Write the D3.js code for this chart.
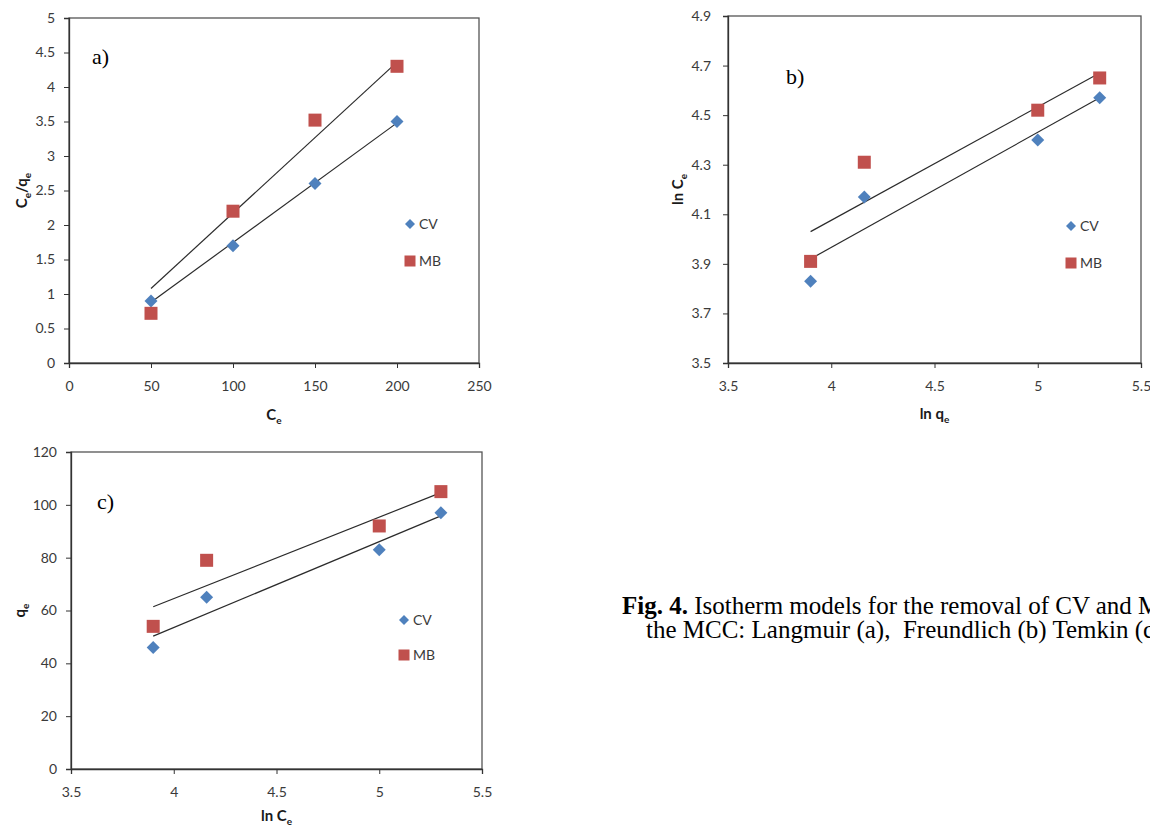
<!DOCTYPE html>
<html>
<head>
<meta charset="utf-8">
<script src="https://cdn.jsdelivr.net/npm/d3@7"></script>
<style>
  body { margin: 0; background: #fff; }
  svg { display: block; }
  .tick text { font-family: Lato, "Open Sans", sans-serif; font-size: 14px; fill: #3a3a3a; }
  .axis-title { font-family: Lato, "Open Sans", sans-serif; font-size: 15px; font-weight: bold; fill: #1a1a1a; }
  .panel-tag { font-family: "Liberation Serif", "DejaVu Serif", serif; font-size: 22px; fill: #000; }
  .legend text { font-family: Lato, "Open Sans", sans-serif; font-size: 14px; fill: #3a3a3a; }
  .caption { font-family: "Liberation Serif", "DejaVu Serif", serif; font-size: 25px; fill: #000; white-space: pre; }
</style>
</head>
<body>
<svg id="fig" width="1150" height="826"></svg>
<script>
// a) Langmuir
const langCe = [50, 100, 150, 200];
const langCV = [0.9, 1.7, 2.6, 3.5];
const langMB = [0.72, 2.2, 3.52, 4.3];
const langFitCV = [[50, 0.88], [200, 3.48]];
const langFitMB = [[50, 1.08], [200, 4.36]];
const langXTicks = [0, 50, 100, 150, 200, 250];
const langYTicks = [0, 0.5, 1, 1.5, 2, 2.5, 3, 3.5, 4, 4.5, 5];

// b) Freundlich
const freuX = [3.9, 4.16, 5.0, 5.3];
const freuCV = [3.83, 4.17, 4.40, 4.57];
const freuMB = [3.91, 4.31, 4.52, 4.65];
const freuFitCV = [[3.9, 3.92], [5.3, 4.57]];
const freuFitMB = [[3.9, 4.03], [5.3, 4.67]];
const freuXTicks = [3.5, 4, 4.5, 5, 5.5];
const freuYTicks = [3.5, 3.7, 3.9, 4.1, 4.3, 4.5, 4.7, 4.9];

// c) Temkin
const temX = [3.9, 4.16, 5.0, 5.3];
const temCV = [46, 65, 83, 97];
const temMB = [54, 79, 92, 105];
const temFitCV = [[3.9, 50.3], [5.3, 95.8]];
const temFitMB = [[3.9, 61.4], [5.3, 104.6]];
const temXTicks = [3.5, 4, 4.5, 5, 5.5];
const temYTicks = [0, 20, 40, 60, 80, 100, 120];

const seriesNames = ["CV", "MB"];
const blue = "#4f81bd";
const red = "#c0504d";

const svg = d3.select("#fig");

function drawPanel(p) {
    const x = d3.scaleLinear().domain(p.xDomain).range([p.left, p.right]);
    const y = d3.scaleLinear().domain(p.yDomain).range([p.bottom, p.top]);
    const g = svg.append("g");

    // plot frame
    g.append("rect")
        .attr("x", p.left).attr("y", p.top)
        .attr("width", p.right - p.left).attr("height", p.bottom - p.top)
        .attr("fill", "none").attr("stroke", "#555").attr("stroke-width", 1.3);

    const xAxis = d3.axisBottom(x).tickValues(p.xTicks).tickSize(5).tickPadding(13)
        .tickFormat(d3.format(p.xFmt));
    const yAxis = d3.axisLeft(y).tickValues(p.yTicks).tickSize(5).tickPadding(p.yPad)
        .tickFormat(d3.format(p.yFmt));

    g.append("g").attr("transform", `translate(0,${p.bottom})`).call(xAxis)
        .call(a => a.select(".domain").attr("stroke", "#333").attr("stroke-width", 1.3))
        .call(a => a.selectAll(".tick line").attr("stroke", "#333"));
    g.append("g").attr("transform", `translate(${p.left},0)`).call(yAxis)
        .call(a => a.select(".domain").attr("stroke", "#333").attr("stroke-width", 1.3))
        .call(a => a.selectAll(".tick line").attr("stroke", "#333"));

    // trend lines
    const line = d3.line().x(d => x(d[0])).y(d => y(d[1]));
    [p.fitMB, p.fitCV].forEach(f => {
        g.append("path").datum(f)
            .attr("d", line)
            .attr("fill", "none").attr("stroke", "#2b2b2b").attr("stroke-width", 1.2);
    });

    // markers
    g.selectAll("path.cv").data(p.xs.map((v, i) => [v, p.cv[i]]))
        .join("path").attr("class", "cv")
        .attr("d", d3.symbol().type(d3.symbolSquare).size(84))
        .attr("transform", d => `translate(${x(d[0])},${y(d[1])}) rotate(45)`)
        .attr("fill", blue);
    g.selectAll("rect.mb").data(p.xs.map((v, i) => [v, p.mb[i]]))
        .join("rect").attr("class", "mb")
        .attr("x", d => x(d[0]) - 6.5).attr("y", d => y(d[1]) - 6.5)
        .attr("width", 13).attr("height", 13)
        .attr("fill", red);

    // legend
    const lg = g.append("g").attr("class", "legend")
        .attr("transform", `translate(${p.legend[0]},${p.legend[1]})`);
    lg.append("path")
        .attr("d", d3.symbol().type(d3.symbolSquare).size(50))
        .attr("transform", "rotate(45)").attr("fill", blue);
    lg.append("text").attr("x", 9).attr("y", 5).text(seriesNames[0]);
    lg.append("rect").attr("x", -5.5).attr("y", p.legendGap - 5.5)
        .attr("width", 11).attr("height", 11).attr("fill", red);
    lg.append("text").attr("x", 9).attr("y", p.legendGap + 5).text(seriesNames[1]);

    // panel tag
    g.append("text").attr("class", "panel-tag")
        .attr("x", p.tag[0]).attr("y", p.tag[1]).text(p.tagText);

    // axis titles with subscripts
    const xt = g.append("text").attr("class", "axis-title")
        .attr("x", (p.left + p.right) / 2).attr("y", p.xTitleY)
        .attr("text-anchor", "middle");
    addSub(xt, p.xTitle);

    const yt = g.append("text").attr("class", "axis-title")
        .attr("transform", `translate(${p.yTitleX},${(p.top + p.bottom) / 2}) rotate(-90)`)
        .attr("text-anchor", "middle");
    addSub(yt, p.yTitle);
}

// parts: array of [text, isSub]
function addSub(t, parts) {
    parts.forEach(([s, sub], i) => {
        const ts = t.append("tspan").text(s);
        if (sub) ts.attr("font-size", "10px").attr("dy", 4);
        else if (i > 0 && parts[i - 1][1]) ts.attr("dy", -4);
    });
}

drawPanel({
    left: 69, right: 479, top: 18, bottom: 363,
    xDomain: [0, 250], yDomain: [0, 5],
    xTicks: langXTicks, yTicks: langYTicks, xFmt: "d", yFmt: "", yPad: 9,
    xs: langCe, cv: langCV, mb: langMB, fitCV: langFitCV, fitMB: langFitMB,
    legend: [410, 224], legendGap: 37,
    tag: [92, 64], tagText: "a)",
    xTitle: [["C", false], ["e", true]], xTitleY: 420,
    yTitle: [["C", false], ["e", true], ["/q", false], ["e", true]], yTitleX: 27
});

drawPanel({
    left: 728, right: 1141, top: 16, bottom: 363,
    xDomain: [3.5, 5.5], yDomain: [3.5, 4.9],
    xTicks: freuXTicks, yTicks: freuYTicks, xFmt: "", yFmt: ".1f", yPad: 12,
    xs: freuX, cv: freuCV, mb: freuMB, fitCV: freuFitCV, fitMB: freuFitMB,
    legend: [1071, 226], legendGap: 37,
    tag: [786, 84], tagText: "b)",
    xTitle: [["ln q", false], ["e", true]], xTitleY: 419,
    yTitle: [["ln C", false], ["e", true]], yTitleX: 683
});

drawPanel({
    left: 71, right: 482, top: 452, bottom: 769,
    xDomain: [3.5, 5.5], yDomain: [0, 120],
    xTicks: temXTicks, yTicks: temYTicks, xFmt: "", yFmt: "d", yPad: 9,
    xs: temX, cv: temCV, mb: temMB, fitCV: temFitCV, fitMB: temFitMB,
    legend: [404, 620], legendGap: 35,
    tag: [97, 509], tagText: "c)",
    xTitle: [["ln C", false], ["e", true]], xTitleY: 821,
    yTitle: [["q", false], ["e", true]], yTitleX: 25
});

// caption (cropped at the right edge, as in the source figure)
const cap = svg.append("text").attr("class", "caption").attr("x", 622).attr("y", 614);
cap.append("tspan").attr("font-weight", "bold").text("Fig. 4.");
cap.append("tspan").text(" Isotherm models for the removal of CV and MB onto");
svg.append("text").attr("class", "caption").attr("x", 646).attr("y", 638)
    .text("the MCC: Langmuir (a),  Freundlich (b) Temkin (c).");
</script>
</body>
</html>
